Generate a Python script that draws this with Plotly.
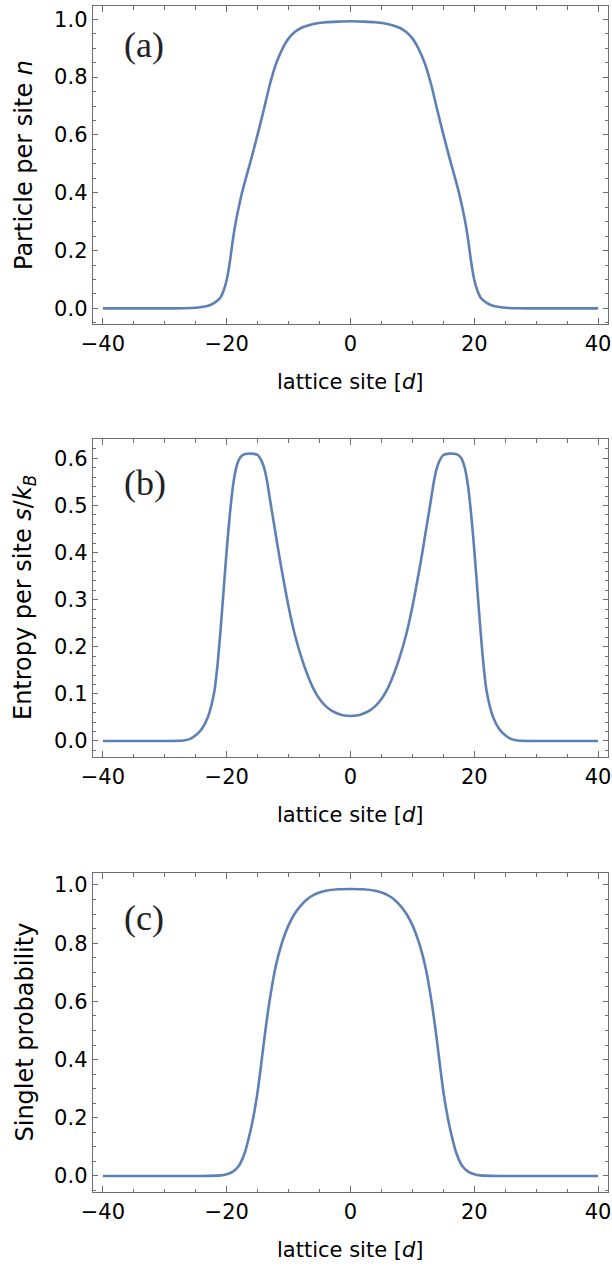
import plotly.graph_objects as go

# ---------------- data ----------------
x_a = [-40, -30, -27, -25, -24, -23, -22, -21, -20.5, -20, -19.5, -19, -18.5, -18, -17.5, -17,
       -16, -15, -14, -13, -12, -11, -10, -9, -8, -7, -6, -4, -2, 0,
       2, 4, 6, 7, 8, 9, 10, 11, 12, 13, 14, 15, 16,
       17, 17.5, 18, 18.5, 19, 19.5, 20, 20.5, 21, 22, 23, 24, 25, 27, 30, 40]
n_a = [0, 0, 0.0005, 0.002, 0.005, 0.009, 0.019, 0.038, 0.062, 0.098, 0.16, 0.238, 0.303, 0.355, 0.402, 0.443,
       0.52, 0.602, 0.688, 0.777, 0.848, 0.898, 0.934, 0.956, 0.970, 0.978, 0.984, 0.990, 0.992, 0.993,
       0.992, 0.990, 0.984, 0.978, 0.970, 0.956, 0.934, 0.898, 0.848, 0.777, 0.688, 0.602, 0.52,
       0.443, 0.402, 0.355, 0.303, 0.238, 0.16, 0.098, 0.062, 0.038, 0.019, 0.009, 0.005, 0.002, 0.0005, 0, 0]

x_b = [-40, -30, -27, -26, -25, -24, -23, -22, -21.5, -21, -20.5, -20, -19.5, -19, -18.5, -18, -17.5, -17,
       -16, -15, -14.5, -14, -13.5, -13, -12.5, -12, -11.5, -11, -10, -9, -8, -7, -6, -5, -4, -3, -2, -1, 0,
       1, 2, 3, 4, 5, 6, 7, 8, 9, 10, 11, 11.5, 12, 12.5, 13, 13.5, 14, 14.5, 15, 16,
       17, 17.5, 18, 18.5, 19, 19.5, 20, 20.5, 21, 21.5, 22, 23, 24, 25, 26, 27, 30, 40]
s_b = [0, 0, 0.001, 0.004, 0.012, 0.026, 0.052, 0.105, 0.16, 0.235, 0.32, 0.405, 0.48, 0.54, 0.578, 0.598, 0.606, 0.609,
       0.61, 0.607, 0.598, 0.582, 0.553, 0.512, 0.472, 0.432, 0.392, 0.355, 0.285, 0.226, 0.18, 0.142, 0.111, 0.089, 0.074, 0.064, 0.058, 0.054, 0.053,
       0.054, 0.058, 0.064, 0.074, 0.089, 0.111, 0.142, 0.18, 0.226, 0.285, 0.355, 0.392, 0.432, 0.472, 0.512, 0.553, 0.582, 0.598, 0.607, 0.61,
       0.609, 0.606, 0.598, 0.578, 0.54, 0.48, 0.405, 0.32, 0.235, 0.16, 0.105, 0.052, 0.026, 0.012, 0.004, 0.001, 0, 0]

x_c = [-40, -24, -21, -20, -19, -18, -17, -16.5, -16, -15.5, -15, -14.5, -14, -13.5, -13, -12.5, -12, -11.5, -11,
       -10, -9, -8, -7, -6, -5, -4, -2, 0,
       2, 4, 5, 6, 7, 8, 9, 10,
       11, 11.5, 12, 12.5, 13, 13.5, 14, 14.5, 15, 15.5, 16, 16.5, 17, 18, 19, 20, 21, 24, 40]
p_c = [0, 0, 0.002, 0.006, 0.015, 0.036, 0.085, 0.125, 0.17, 0.225, 0.29, 0.372, 0.458, 0.54, 0.612, 0.675, 0.728, 0.77, 0.806,
       0.862, 0.902, 0.93, 0.951, 0.965, 0.974, 0.980, 0.985, 0.986,
       0.985, 0.980, 0.974, 0.965, 0.951, 0.93, 0.902, 0.862,
       0.806, 0.77, 0.728, 0.675, 0.612, 0.54, 0.458, 0.372, 0.29, 0.225, 0.17, 0.125, 0.085, 0.036, 0.015, 0.006, 0.002, 0, 0]

x_ticks = [-40, -20, 0, 20, 40]
panel_labels = ["(a)", "(b)", "(c)"]
y_titles = ["Particle per site <i>n</i>",
            "Entropy per site <i>s</i>/<i>k</i><sub><i>B</i></sub>",
            "Singlet probability"]
x_title = "lattice site [<i>d</i>]"

# ---------------- styling ----------------
W, H = 612, 1266
LINE = "#5E81B5"
FRAME = "#6e6e6e"
FONT = "DejaVu Sans"

# pixel geometry of each frame (top, bottom)
frames = [(6, 324), (439, 757), (873, 1192)]
x_left, x_right = 93, 608
y_ranges = [(-0.054, 1.046), (-0.034, 0.641), (-0.055, 1.041)]
y_dticks = [(0.2, 0.05), (0.1, 0.02), (0.2, 0.05)]
label_pos = [(-33.4, 0.911), (-33.2, 0.548), (-33.4, 0.887)]

fig = go.Figure()
series = [(x_a, n_a), (x_b, s_b), (x_c, p_c)]
for i, (xs, ys) in enumerate(series):
    sfx = "" if i == 0 else str(i + 1)
    fig.add_trace(go.Scatter(x=xs, y=ys, mode="lines",
                             line=dict(color=LINE, width=2.6, shape="spline", smoothing=0.7),
                             xaxis="x" + sfx, yaxis="y" + sfx, showlegend=False,
                             hoverinfo="skip"))

layout = dict(width=W, height=H, margin=dict(l=0, r=0, t=0, b=0),
              paper_bgcolor="white", plot_bgcolor="white",
              font=dict(family=FONT, size=21, color="black"), showlegend=False)

annotations = []
for i, (top, bot) in enumerate(frames):
    sfx = "" if i == 0 else str(i + 1)
    dom_y = [1 - bot / H, 1 - top / H]
    layout["xaxis" + sfx] = dict(
        domain=[x_left / W, x_right / W], anchor="y" + sfx,
        range=[-41.6, 41.6], tickvals=x_ticks, ticks="inside", ticklen=6,
        tickcolor=FRAME, tickwidth=1, showline=True, linecolor=FRAME, linewidth=1.3,
        mirror="allticks", showgrid=False, zeroline=False, automargin=False,
        tickfont=dict(family=FONT, size=21, color="black"),
        minor=dict(dtick=5, tick0=0, ticks="inside", ticklen=3.5, tickcolor=FRAME, showgrid=False),
        fixedrange=True)
    major, minor = y_dticks[i]
    layout["yaxis" + sfx] = dict(
        domain=dom_y, anchor="x" + sfx, range=list(y_ranges[i]),
        tick0=0, dtick=major, tickformat=".1f", ticks="inside", ticklen=5,
        tickcolor=FRAME, tickwidth=1, showline=True, linecolor=FRAME, linewidth=1.3,
        mirror="allticks", showgrid=False, zeroline=False, automargin=False,
        tickfont=dict(family=FONT, size=21, color="black"),
        minor=dict(dtick=minor, tick0=0, ticks="inside", ticklen=3, tickcolor=FRAME, showgrid=False),
        fixedrange=True)
    # x-axis title
    annotations.append(dict(text=x_title, xref="paper", yref="paper",
                            x=350 / W, y=1 - (bot + 58) / H, showarrow=False,
                            xanchor="center", yanchor="middle",
                            font=dict(family=FONT, size=21, color="black")))
    # y-axis title
    annotations.append(dict(text=y_titles[i], xref="paper", yref="paper",
                            x=24 / W, y=1 - ((top + bot) / 2) / H, showarrow=False,
                            textangle=-90, xanchor="center", yanchor="middle",
                            font=dict(family=FONT, size=24, color="black")))
    # panel label
    lx, ly = label_pos[i]
    annotations.append(dict(text=panel_labels[i], xref="x" + sfx, yref="y" + sfx,
                            x=lx, y=ly, showarrow=False, xanchor="center", yanchor="middle",
                            font=dict(family="Liberation Serif", size=36, color="#222222")))

layout["annotations"] = annotations
fig.update_layout(**layout)

fig.write_html("out.html", config={"displayModeBar": False, "staticPlot": True},
               post_script="document.body.style.margin='0';")
